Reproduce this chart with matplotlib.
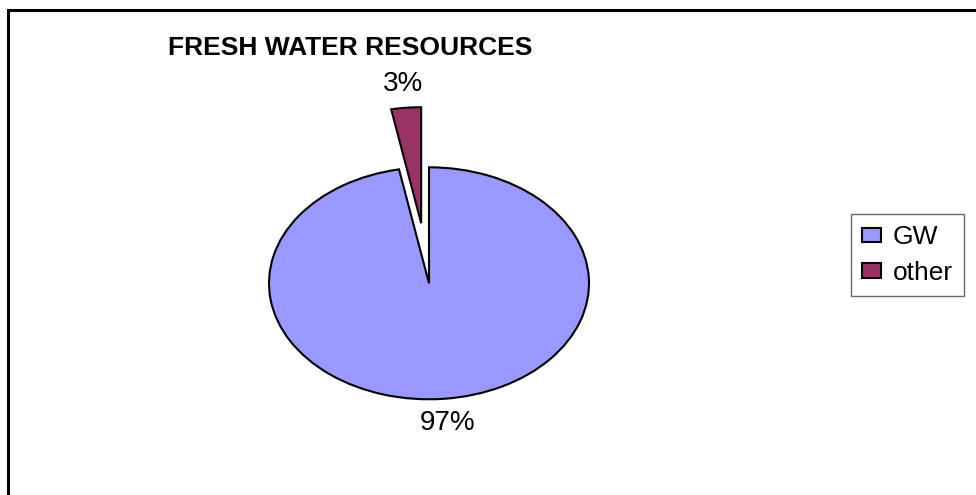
import matplotlib
matplotlib.use("Agg")
import matplotlib.pyplot as plt
from matplotlib.patches import Rectangle

# Data
categories = ["GW", "other"]
values = [97, 3]
explode = [0.0, 0.52]
colors = ["#9999FF", "#993366"]
title = "FRESH WATER RESOURCES"

plt.rcParams['font.family'] = ['Liberation Sans', 'DejaVu Sans']

W, H = 976, 495
fig = plt.figure(figsize=(W / 100, H / 100), dpi=100)

# figure border
fig.patches.append(Rectangle((8 / W, -0.02), 1.1, 1 - 10 / H + 0.02,
                             transform=fig.transFigure, fill=False,
                             edgecolor="black", linewidth=2.2, zorder=0))

# axes so that 1 unit = 160 px horizontally, 116 px vertically
cx, cy = 429, 283.3
L = 1.8
rx, ry = 160, 116
ax = fig.add_axes([(cx - L * rx) / W, (H - cy - L * ry) / H, 2 * L * rx / W, 2 * L * ry / H])

wedges, texts, autotexts = ax.pie(
    values, explode=explode, colors=colors, startangle=90, counterclock=False,
    autopct='%1.0f%%', pctdistance=1.21,
    wedgeprops=dict(edgecolor="black", linewidth=1.5),
    textprops=dict(fontsize=20, color="black"))
ax.set_aspect('auto')
ax.set_xlim(-L, L)
ax.set_ylim(-L, L)
ax.axis('off')
for w in wedges:
    w.set_clip_on(False)

fig.text(350 / W, 1 - 48 / H, title, ha="center", va="center",
         fontsize=19, fontweight="bold")

leg = fig.legend(wedges, categories, loc="upper left",
                 bbox_to_anchor=(851 / W, 1 - 214 / H),
                 fontsize=19, frameon=True, fancybox=False,
                 handlelength=0.7, handleheight=0.46, handletextpad=0.45,
                 borderpad=0.42, labelspacing=0.45, borderaxespad=0)
leg.get_frame().set_edgecolor("#444444")
leg.get_frame().set_linewidth(1.0)

fig.savefig("out.png", dpi=100)
